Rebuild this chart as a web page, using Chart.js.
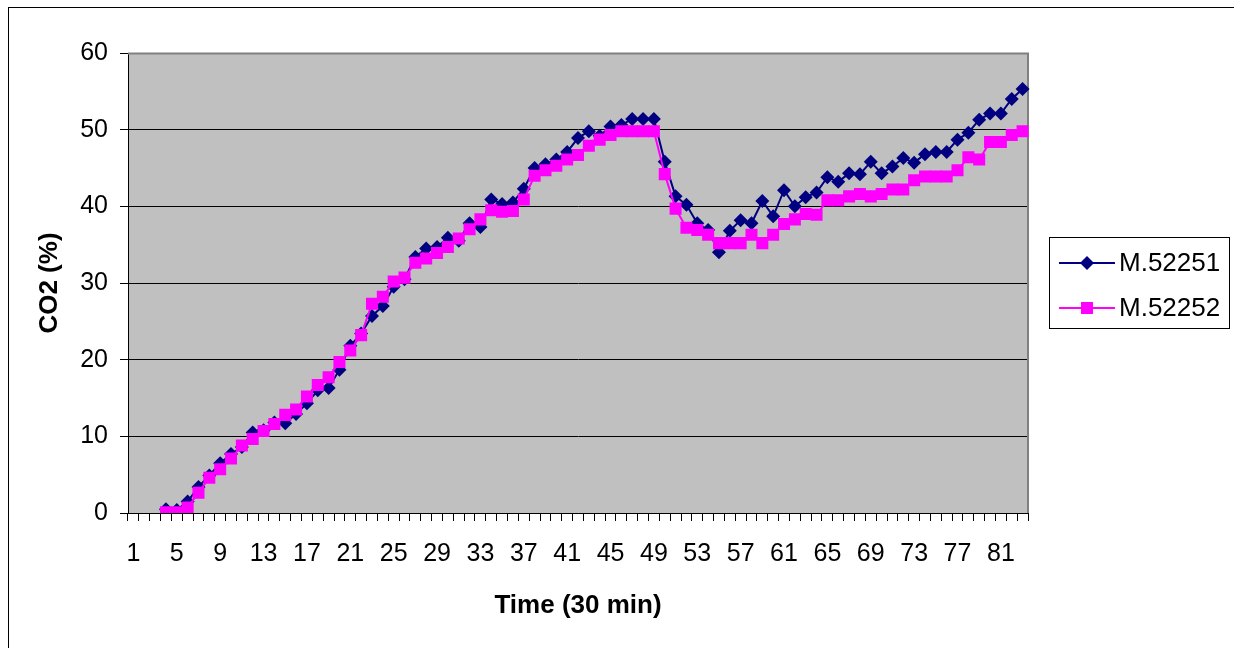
<!DOCTYPE html>
<html>
<head>
<meta charset="utf-8">
<script src="https://cdn.jsdelivr.net/npm/chart.js@4"></script>
<style>
  html, body { margin: 0; padding: 0; background: #fff; }
  #wrap { position: relative; width: 1234px; height: 648px; overflow: hidden; }
  #frame { position: absolute; left: 8px; top: 7px; width: 1300px; height: 700px;
           border-left: 1px solid #000; border-top: 1px solid #000; box-sizing: border-box; }
  canvas { position: absolute; left: 0; top: 0; }
</style>
</head>
<body>
<div id="wrap">
  <div id="frame"></div>
  <canvas id="c" width="1234" height="648"></canvas>
</div>
<script>
// Categories: time steps 1..83 (30 min each)
const categories = Array.from({length: 83}, (_, i) => String(i + 1));

// Series M.52251 (values from category 4 to 83)
const m52251 = [null, null, null,
  0.5, 0.4, 1.5, 3.4, 4.9, 6.5, 7.7, 8.6, 10.5, 10.8,
  11.8, 11.7, 12.9, 14.3, 16.0, 16.3, 18.7, 21.8, 23.4, 25.7,
  27.0, 29.5, 30.5, 33.4, 34.5, 34.7, 35.9, 35.5, 37.8, 37.3,
  40.9, 40.3, 40.5, 42.3, 45.0, 45.5, 46.1, 47.1, 48.9, 49.8,
  49.2, 50.4, 50.6, 51.4, 51.4, 51.4, 45.8, 41.3, 40.2, 37.8,
  36.9, 34.0, 36.8, 38.2, 37.8, 40.7, 38.7, 42.1, 40.0, 41.2,
  41.8, 43.8, 43.2, 44.3, 44.2, 45.8, 44.3, 45.2, 46.3, 45.7,
  46.8, 47.1, 47.1, 48.7, 49.6, 51.3, 52.1, 52.1, 54.0, 55.3];

// Series M.52252
const m52252 = [null, null, null,
  0.1, 0.1, 0.7, 2.65, 4.6, 5.7, 7.1, 8.8, 9.65, 10.7,
  11.6, 12.8, 13.5, 15.2, 16.7, 17.7, 19.7, 21.2, 23.2, 27.3,
  28.2, 30.2, 30.7, 32.65, 33.2, 33.9, 34.7, 35.8, 37.0, 38.3,
  39.5, 39.3, 39.4, 40.9, 44.0, 44.7, 45.3, 46.1, 46.7, 47.9,
  48.7, 49.3, 49.8, 49.8, 49.8, 49.8, 44.2, 39.7, 37.2, 36.9,
  36.3, 35.2, 35.2, 35.2, 36.3, 35.2, 36.3, 37.7, 38.3, 39.0,
  38.9, 40.8, 40.8, 41.3, 41.6, 41.3, 41.6, 42.2, 42.2, 43.4,
  43.9, 43.9, 43.9, 44.7, 46.4, 46.1, 48.4, 48.4, 49.3, 49.8];

const yTicks = [0, 10, 20, 30, 40, 50, 60];
const seriesNames = ['M.52251', 'M.52252'];
const xTitle = 'Time (30 min)';
const yTitle = 'CO2 (%)';

const FONT = "'Liberation Sans', Arial, sans-serif";

const plotBg = {
  id: 'plotBg',
  beforeDraw(chart) {
    const {ctx, chartArea: a} = chart;
    ctx.save();
    ctx.fillStyle = '#C0C0C0';
    ctx.fillRect(a.left, a.top, a.right - a.left, a.bottom - a.top);
    ctx.restore();
  },
  beforeDatasetsDraw(chart) {
    const {ctx, chartArea: a} = chart;
    ctx.save();
    ctx.strokeStyle = '#808080';
    ctx.lineWidth = 2;
    ctx.beginPath();
    ctx.moveTo(a.left, a.top + 0.5);
    ctx.lineTo(a.right, a.top + 0.5);
    ctx.lineTo(a.right, a.bottom);
    ctx.stroke();
    ctx.restore();
  }
};

const legendBox = {
  id: 'legendBox',
  afterDraw(chart) {
    const {ctx} = chart;
    const x0 = 1049.5, y0 = 237.5, x1 = 1229.5, y1 = 328.5;
    ctx.save();
    ctx.fillStyle = '#fff';
    ctx.fillRect(x0, y0, x1 - x0, y1 - y0);
    ctx.strokeStyle = '#000';
    ctx.lineWidth = 1;
    ctx.strokeRect(x0, y0, x1 - x0, y1 - y0);
    const rows = [263, 308];
    chart.data.datasets.forEach((ds, i) => {
      const y = rows[i];
      ctx.strokeStyle = ds.borderColor;
      ctx.lineWidth = 2;
      ctx.beginPath();
      ctx.moveTo(1059, y);
      ctx.lineTo(1115, y);
      ctx.stroke();
      ctx.fillStyle = ds.pointBackgroundColor;
      if (ds.pointStyle === 'rectRot') {
        const r = 7;
        ctx.beginPath();
        ctx.moveTo(1087, y - r); ctx.lineTo(1087 + r, y);
        ctx.lineTo(1087, y + r); ctx.lineTo(1087 - r, y);
        ctx.closePath(); ctx.fill();
      } else {
        ctx.fillRect(1081, y - 6, 12, 12);
      }
      ctx.fillStyle = '#000';
      ctx.font = '26px ' + FONT;
      ctx.textBaseline = 'middle';
      ctx.textAlign = 'left';
      ctx.fillText(ds.label, 1119, y + 1);
    });
    ctx.restore();
  }
};

new Chart(document.getElementById('c'), {
  type: 'line',
  data: {
    labels: categories,
    datasets: [
      {
        label: seriesNames[0], data: m52251,
        borderColor: '#000080', backgroundColor: '#000080',
        pointBackgroundColor: '#000080', pointBorderColor: '#000080',
        pointStyle: 'rectRot', pointRadius: 7, pointBorderWidth: 0,
        borderWidth: 2, tension: 0, order: 1
      },
      {
        label: seriesNames[1], data: m52252,
        borderColor: '#FF00FF', backgroundColor: '#FF00FF',
        pointBackgroundColor: '#FF00FF', pointBorderColor: '#FF00FF',
        pointStyle: 'rect', pointRadius: 8.5, pointBorderWidth: 0,
        borderWidth: 2, tension: 0, order: 0
      }
    ]
  },
  options: {
    responsive: false,
    animation: false,
    devicePixelRatio: 1,
    layout: { padding: { left: 0, top: 53, right: 206, bottom: 0 } },
    plugins: { legend: { display: false }, tooltip: { enabled: false } },
    elements: { point: { hoverRadius: 7 } },
    scales: {
      x: {
        type: 'category',
        offset: true,
        afterFit(s) { s.height = 135; },
        grid: { offset: true, drawOnChartArea: false, drawTicks: true, tickLength: 8,
                color: '#000', tickColor: '#000', lineWidth: 1 },
        border: { color: '#000', width: 1 },
        ticks: {
          autoSkip: false, maxRotation: 0, minRotation: 0, padding: 18,
          color: '#000', font: { family: FONT, size: 25 },
          callback(v, i) { return i % 4 === 0 ? categories[i] : ''; }
        },
        title: { display: true, text: xTitle, color: '#000',
                 font: { family: FONT, size: 26, weight: 'bold' },
                 padding: { top: 0, bottom: 27 } }
      },
      y: {
        min: 0, max: 60,
        afterFit(s) { s.width = 128; },
        afterBuildTicks(s) { s.ticks = yTicks.map(v => ({ value: v })); },
        grid: { color: (c) => c.tick && c.tick.value === 60 ? '#808080' : '#000',
                tickColor: '#000', tickLength: 8, lineWidth: 1 },
        border: { color: '#000', width: 1 },
        ticks: { padding: 12, color: '#000', font: { family: FONT, size: 25 } },
        title: { display: true, text: yTitle, color: '#000',
                 font: { family: FONT, size: 26, weight: 'bold' },
                 padding: { top: 34, bottom: 0 } }
      }
    }
  },
  plugins: [plotBg, legendBox]
});
</script>
</body>
</html>
